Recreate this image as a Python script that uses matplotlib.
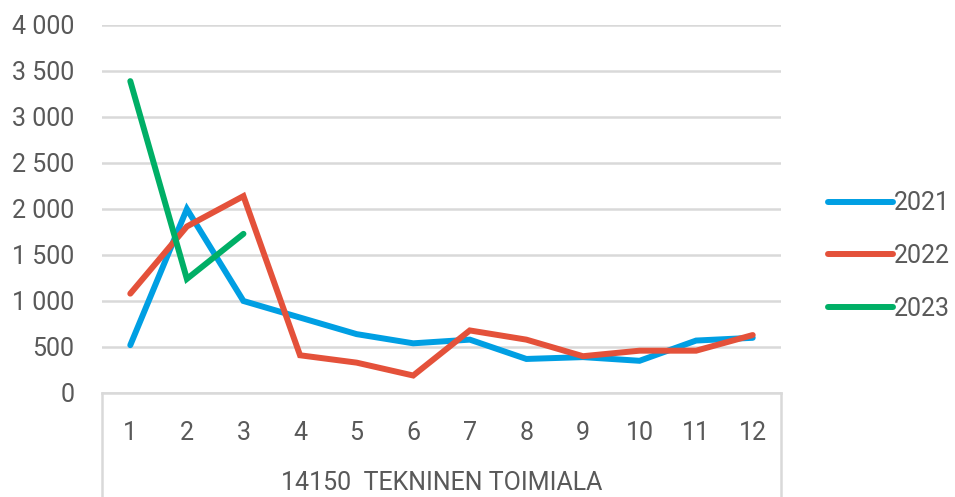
import matplotlib.pyplot as plt
from matplotlib.lines import Line2D

months = ["1", "2", "3", "4", "5", "6", "7", "8", "9", "10", "11", "12"]
v2021 = [520, 2000, 1000, 820, 640, 540, 580, 370, 390, 350, 570, 600]
v2022 = [1080, 1810, 2140, 410, 330, 190, 680, 580, 400, 460, 460, 630]
v2023 = [3390, 1240, 1730]
years = ["2021", "2022", "2023"]
yticks = [0, 500, 1000, 1500, 2000, 2500, 3000, 3500, 4000]
group_label = "14150  TEKNINEN TOIMIALA"

colors = ["#009FE3", "#E4513A", "#00AF66"]
text_col = "#595959"
grid_col = "#D9D9D9"

plt.rcParams["font.family"] = ["Roboto", "DejaVu Sans"]

fig = plt.figure(figsize=(9.55, 4.97), dpi=100)
ax = fig.add_axes([102 / 955, 1 - 393 / 497, 679 / 955, 368 / 497])

x = list(range(len(months)))
for vals, col, lab in zip([v2021, v2022, v2023], colors, years):
    ax.plot(x[:len(vals)], vals, color=col, lw=4.3, label=lab,
            solid_capstyle="round", solid_joinstyle="miter")

ax.set_xlim(-0.5, len(months) - 0.5)
ax.set_ylim(0, 4000)
ax.set_yticks(yticks)
ax.set_yticklabels([f"{v:,}".replace(",", " ") for v in yticks])
ax.set_xticks(x)
ax.set_xticklabels(months)
ax.tick_params(axis="both", length=0, labelsize=18, colors=text_col)
ax.tick_params(axis="y", pad=20)
ax.tick_params(axis="x", pad=20)
ax.grid(axis="y", color=grid_col, lw=1.8)
ax.set_axisbelow(True)
for s in ["top", "right", "left"]:
    ax.spines[s].set_visible(False)
ax.spines["bottom"].set_color(grid_col)
ax.spines["bottom"].set_linewidth(1.8)

# category group frame below the axis
for xf in [-0.5, len(months) - 0.5]:
    ax.add_line(Line2D([xf, xf], [0, -0.5], transform=ax.get_xaxis_transform(),
                       color=grid_col, lw=1.8, clip_on=False))
ax.text(0.5, -0.245, group_label, transform=ax.transAxes, ha="center",
        va="center", fontsize=18, color=text_col)

leg = fig.legend(loc="center left", bbox_to_anchor=(828 / 955, 1 - 256 / 497),
                 frameon=False, fontsize=18, handlelength=2.6,
                 handletextpad=0.05, labelspacing=1.15, borderpad=0,
                 borderaxespad=0)
for t in leg.get_texts():
    t.set_color(text_col)

fig.savefig("out.png", dpi=100)
